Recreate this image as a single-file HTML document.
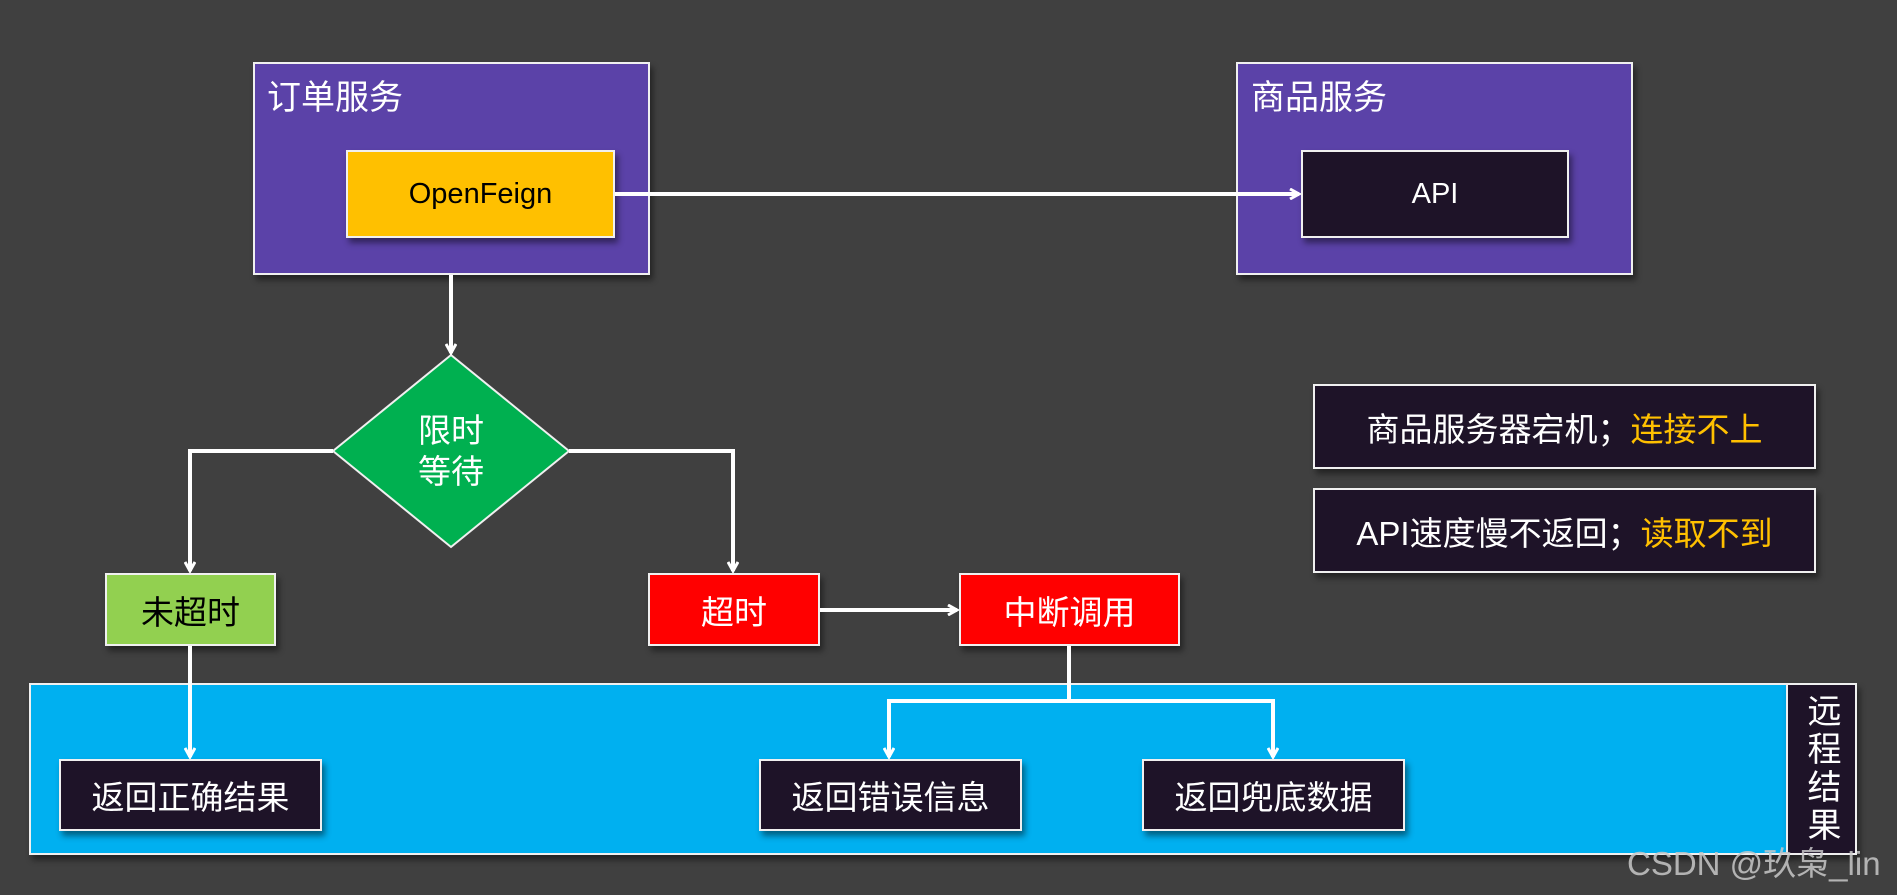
<!DOCTYPE html>
<html><head><meta charset="utf-8"><style>
body{margin:0;width:1897px;height:895px;background:#404040;position:relative;overflow:hidden;font-family:"Liberation Sans","Noto Sans CJK SC",sans-serif;}
.b{position:absolute;box-sizing:border-box;border:2px solid #f0f0f0;display:flex;align-items:center;justify-content:center;color:#fff;font-size:33px;box-shadow:3px 5px 6px rgba(0,0,0,.45);}
.dark{background:#1e1328;}
.t{position:absolute;color:#fff;font-size:34px;}
svg{position:absolute;left:0;top:0;}
</style></head><body>
<div class="b" style="left:253px;top:62px;width:397px;height:213px;background:#5b42a8;"></div>
<div class="t" style="left:267px;top:70px;">订单服务</div>
<div class="b" style="left:346px;top:150px;width:269px;height:88px;background:#ffc000;color:#000;font-size:29px;">OpenFeign</div>
<div class="b" style="left:1236px;top:62px;width:397px;height:213px;background:#5b42a8;"></div>
<div class="t" style="left:1251px;top:70px;">商品服务</div>
<div class="b dark" style="left:1301px;top:150px;width:268px;height:88px;font-size:29px;">API</div>
<div class="b dark" style="left:1313px;top:384px;width:503px;height:85px;">商品服务器宕机；<span style="color:#ffc000">连接不上</span></div>
<div class="b dark" style="left:1313px;top:488px;width:503px;height:85px;">API速度慢不返回；<span style="color:#ffc000">读取不到</span></div>
<div class="b" style="left:29px;top:683px;width:1759px;height:172px;background:#00b0f0;"></div>
<div class="b dark" style="left:1786px;top:683px;width:71px;height:172px;writing-mode:vertical-rl;letter-spacing:4px;font-size:34px;">远程结果</div>
<div class="b" style="left:105px;top:573px;width:171px;height:73px;background:#92d050;color:#000;">未超时</div>
<div class="b" style="left:648px;top:573px;width:172px;height:73px;background:#ff0000;">超时</div>
<div class="b" style="left:959px;top:573px;width:221px;height:73px;background:#ff0000;">中断调用</div>
<div class="b dark" style="left:59px;top:759px;width:263px;height:72px;">返回正确结果</div>
<div class="b dark" style="left:759px;top:759px;width:263px;height:72px;">返回错误信息</div>
<div class="b dark" style="left:1142px;top:759px;width:263px;height:72px;">返回兜底数据</div>
<svg width="1897" height="895">
<defs><marker id="a" markerWidth="12" markerHeight="12" refX="10" refY="6" orient="auto" markerUnits="userSpaceOnUse"><path d="M1,1 L10,6 L1,11" fill="none" stroke="#fff" stroke-width="3"/></marker></defs>
<polygon points="451,355 569,451 451,547 333,451" fill="#00b050" stroke="#f0f0f0" stroke-width="2"/>
<g stroke="#fff" stroke-width="4" fill="none">
<line x1="615" y1="194" x2="1299" y2="194" marker-end="url(#a)"/>
<line x1="451" y1="275" x2="451" y2="353" marker-end="url(#a)"/>
<polyline points="333,451 190,451 190,571" marker-end="url(#a)"/>
<polyline points="569,451 733,451 733,571" marker-end="url(#a)"/>
<line x1="820" y1="610" x2="957" y2="610" marker-end="url(#a)"/>
<line x1="190" y1="646" x2="190" y2="757" marker-end="url(#a)"/>
<polyline points="1069,646 1069,701" />
<polyline points="1069,701 889,701 889,757" marker-end="url(#a)"/>
<polyline points="1069,701 1273,701 1273,757" marker-end="url(#a)"/>
</g>
<text x="451" y="442" fill="#fff" font-size="33" text-anchor="middle" font-family="Liberation Sans, Noto Sans CJK SC, sans-serif">限时</text>
<text x="451" y="483" fill="#fff" font-size="33" text-anchor="middle" font-family="Liberation Sans, Noto Sans CJK SC, sans-serif">等待</text>
<text x="1627" y="875" fill="#c8c8c8" fill-opacity="0.85" font-size="33" font-family="Liberation Sans, Noto Sans CJK SC, sans-serif">CSDN @玖枭_lin</text>
</svg>
</body></html>
